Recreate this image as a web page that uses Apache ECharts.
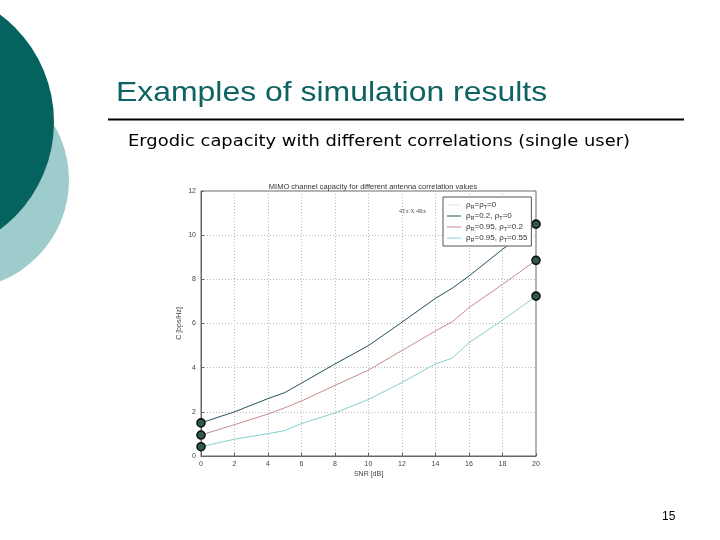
<!DOCTYPE html>
<html>
<head>
<meta charset="utf-8">
<script src="https://cdn.jsdelivr.net/npm/echarts@6/dist/echarts.min.js"></script>
<style>html,body{margin:0;padding:0;background:#fff;}#c{width:720px;height:540px;}</style>
</head>
<body>
<div id="c"></div>
<script>
const snr = [0, 2, 4, 5, 6, 8, 10, 12, 14, 15, 16, 18, 20];
const capUncorr = [1.5, 2.0, 2.6, 2.87, 3.3, 4.17, 5.0, 6.06, 7.14, 7.6, 8.15, 9.36, 10.5];
const capR02 = [1.5, 2.0, 2.6, 2.87, 3.3, 4.17, 5.0, 6.06, 7.14, 7.6, 8.15, 9.36, 10.5];
const capR95T02 = [0.95, 1.42, 1.9, 2.18, 2.49, 3.2, 3.89, 4.78, 5.66, 6.08, 6.72, 7.77, 8.86];
const capR95T55 = [0.42, 0.76, 1.01, 1.15, 1.47, 1.95, 2.56, 3.33, 4.17, 4.43, 5.13, 6.15, 7.24];
const seriesNames = ['ρR=ρT=0', 'ρR=0.2, ρT=0', 'ρR=0.95, ρT=0.2', 'ρR=0.95, ρT=0.55'];
const legendRich = ['ρ{s|R}=ρ{s|T}=0', 'ρ{s|R}=0.2, ρ{s|T}=0', 'ρ{s|R}=0.95, ρ{s|T}=0.2', 'ρ{s|R}=0.95, ρ{s|T}=0.55'];
const seriesColors = ['#dde6ee', '#2c5662', '#c88a8a', '#86cccc'];
const xTicks = [0, 2, 4, 6, 8, 10, 12, 14, 16, 18, 20];
const yTicks = [0, 2, 4, 6, 8, 10, 12];

const chart = echarts.init(document.getElementById('c'), null, {renderer: 'canvas'});
const pairs = arr => snr.map((x, i) => [x, arr[i]]);
const lastIdx = snr.length - 1;
function mkSeries(name, arr, color, markers) {
  return {
    name: name, type: 'line', data: pairs(arr), smooth: false,
    lineStyle: {color: color, width: 1},
    itemStyle: {color: '#2e5a48', borderColor: '#111', borderWidth: 1.6},
    showSymbol: markers,
    symbol: (v, p) => (markers && (p.dataIndex === 0 || p.dataIndex === lastIdx)) ? 'circle' : 'none',
    symbolSize: 8,
    animation: false, z: 3, silent: true
  };
}
const legendMap = {};
seriesNames.forEach((n, i) => legendMap[n] = legendRich[i]);

chart.setOption({
  animation: false,
  title: {
    text: 'MIMO channel capacity for different antenna correlation values',
    left: 368, top: 178, textAlign: 'center',
    textStyle: {fontSize: 7.5, fontWeight: 'normal', color: '#333', fontFamily: 'Liberation Sans'}
  },
  legend: {
    data: seriesNames.map((n, i) => ({name: n, itemStyle: {color: seriesColors[i], borderWidth: 0}})),
    orient: 'vertical', left: 443, top: 197,
    itemGap: 1, padding: [3, 4, 3, 4],
    borderColor: '#555', borderWidth: 1, backgroundColor: '#fff',
    icon: 'rect', itemWidth: 14, itemHeight: 1,
    formatter: n => legendMap[n],
    textStyle: {fontSize: 8, color: '#333', fontFamily: 'Liberation Sans', lineHeight: 10,
      rich: {s: {fontSize: 5.5, verticalAlign: 'bottom', padding: [4, 0, 0, 0], color: '#333'}}}
  },
  grid: {left: 201, right: 184, top: 191, bottom: 84, show: true, borderColor: '#666', borderWidth: 1},
  xAxis: {
    type: 'value', min: 0, max: 20, interval: 2,
    name: 'SNR [dB]', nameLocation: 'middle', nameGap: 15,
    nameTextStyle: {fontSize: 7, color: '#444', fontFamily: 'Liberation Sans'},
    axisLine: {lineStyle: {color: '#666'}},
    axisTick: {inside: true, length: 3, lineStyle: {color: '#666'}},
    axisLabel: {fontSize: 7, color: '#444', margin: 5, fontFamily: 'Liberation Sans'},
    splitLine: {show: true, lineStyle: {color: '#bbb', type: [1, 2], width: 1}}
  },
  yAxis: {
    type: 'value', min: 0, max: 12, interval: 2,
    name: 'C [bps/Hz]', nameLocation: 'middle', nameGap: 18, nameRotate: 90,
    nameTextStyle: {fontSize: 7, color: '#444', fontFamily: 'Liberation Sans'},
    axisLine: {show: true, lineStyle: {color: '#666'}},
    axisTick: {show: true, inside: true, length: 3, lineStyle: {color: '#666'}},
    axisLabel: {fontSize: 7, color: '#444', margin: 5, fontFamily: 'Liberation Sans'},
    splitLine: {show: true, lineStyle: {color: '#bbb', type: [1, 2], width: 1}}
  },
  series: [
    mkSeries(seriesNames[0], capUncorr, seriesColors[0], false),
    mkSeries(seriesNames[1], capR02, seriesColors[1], true),
    mkSeries(seriesNames[2], capR95T02, seriesColors[2], true),
    mkSeries(seriesNames[3], capR95T55, seriesColors[3], true)
  ],
  graphic: [
    {type: 'circle', shape: {cx: -40, cy: 180, r: 109}, style: {fill: '#9ecccc'}, z: 1},
    {type: 'circle', shape: {cx: -80, cy: 122, r: 134}, style: {fill: '#04625f'}, z: 2},
    {type: 'text', x: 116, y: 79, scaleX: 1.12, style: {x: 0, y: 0, text: 'Examples of simulation results', fontSize: 28.5, fill: '#0e6362', fontFamily: 'Liberation Sans'}},
    {type: 'line', shape: {x1: 108, y1: 119.5, x2: 684, y2: 119.5}, style: {stroke: '#000', lineWidth: 2}},
    {type: 'text', x: 128, y: 134, scaleX: 1.155, style: {x: 0, y: 0, text: 'Ergodic capacity with different correlations (single user)', fontSize: 15.5, fill: '#000', fontFamily: 'DejaVu Sans'}},
    {type: 'text', left: 399, top: 208, style: {text: '4Tx X 4Rx', fontSize: 6, fill: '#555', fontFamily: 'Liberation Serif'}, z: 10},
    {type: 'text', left: 662, top: 511, style: {text: '15', fontSize: 12, fill: '#000', fontFamily: 'Liberation Sans'}}
  ]
});
</script>
</body>
</html>
